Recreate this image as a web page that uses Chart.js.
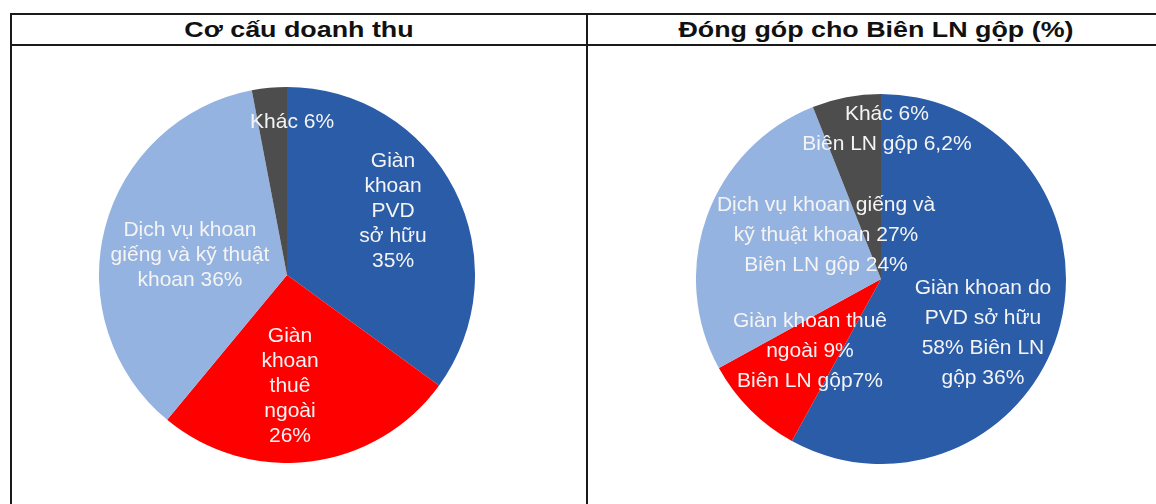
<!DOCTYPE html>
<html>
<head>
<meta charset="utf-8">
<script src="https://cdn.jsdelivr.net/npm/chart.js@4.4.0/dist/chart.umd.min.js"></script>
<style>
    body { margin: 0; width: 1156px; height: 504px; overflow: hidden; background: #fff; font-family: "Liberation Sans", Arial, sans-serif; }
    .line { position: absolute; background: #1a1a1a; }
    .title { position: absolute; top: 15px; height: 30px; line-height: 30px; text-align: center; font-weight: bold; font-size: 22px; color: #111; }
    .title span { display: inline-block; transform: scaleX(1.22); }
    canvas { position: absolute; }
</style>
</head>
<body>
<div class="line" style="left:10px;top:13px;width:1146px;height:2px"></div>
<div class="line" style="left:10px;top:44px;width:1146px;height:2px"></div>
<div class="line" style="left:10px;top:13px;width:2px;height:491px"></div>
<div class="line" style="left:586px;top:13px;width:2px;height:491px"></div>
<div class="title" style="left:12px;width:574px"><span>Cơ cấu doanh thu</span></div>
<div class="title" style="left:588px;width:576px"><span>Đóng góp cho Biên LN gộp (%)</span></div>

<canvas id="ChartRevenue" width="376" height="376" style="left:99px;top:87px"></canvas>
<canvas id="ChartMargin" width="370" height="370" style="left:696px;top:94px"></canvas>

<script>
// Cơ cấu doanh thu
var revenueCategories = ['Giàn khoan PVD sở hữu', 'Giàn khoan thuê ngoài', 'Dịch vụ khoan giếng và kỹ thuật khoan', 'Khác'];
var revenueShare = [35, 26, 36, 3];
var revenueText = [
    ['Giàn', 'khoan', 'PVD', 'sở hữu', '35%'],
    ['Giàn', 'khoan', 'thuê', 'ngoài', '26%'],
    ['Dịch vụ khoan', 'giếng và kỹ thuật', 'khoan 36%'],
    ['Khác 6%']
];

// Đóng góp cho Biên LN gộp
var marginCategories = ['Giàn khoan do PVD sở hữu', 'Giàn khoan thuê ngoài', 'Dịch vụ khoan giếng và kỹ thuật khoan', 'Khác'];
var marginShare = [58, 9, 27, 6];
var marginText = [
    ['Giàn khoan do', 'PVD sở hữu', '58% Biên LN', 'gộp 36%'],
    ['Giàn khoan thuê', 'ngoài 9%', 'Biên LN gộp7%'],
    ['Dịch vụ khoan giếng và', 'kỹ thuật khoan 27%', 'Biên LN gộp 24%'],
    ['Khác 6%', 'Biên LN gộp 6,2%']
];

var colors = ['#2B5CA8', '#FF0000', '#95B3E0', '#4D4D4D'];

// label anchors, as fractions of the pie radius from its centre
var revenueAnchor = [[0.564, -0.34], [0.016, 0.59], [-0.516, -0.106], [0.027, -0.814]];
var marginAnchor = [[0.551, 0.292], [-0.384, 0.389], [-0.297, -0.238], [0.032, -0.81]];

function sliceLabels(texts, anchors, lineHeight) {
    return {
        id: 'sliceLabels',
        afterDatasetsDraw: function (chart) {
            var ctx = chart.ctx;
            var arcs = chart.getDatasetMeta(0).data;
            ctx.save();
            ctx.fillStyle = '#F4F4F4';
            ctx.font = '21px "Liberation Sans", Arial, sans-serif';
            ctx.textAlign = 'center';
            ctx.textBaseline = 'middle';
            arcs.forEach(function (arc, i) {
                var r = arc.outerRadius;
                var cx = arc.x + anchors[i][0] * r;
                var cy = arc.y + anchors[i][1] * r;
                var lines = texts[i];
                var top = cy - (lines.length - 1) * lineHeight / 2;
                lines.forEach(function (t, k) {
                    ctx.fillText(t, cx, top + k * lineHeight);
                });
            });
            ctx.restore();
        }
    };
}

function makePie(id, labels, values, texts, anchors, lineHeight) {
    new Chart(document.getElementById(id), {
        type: 'pie',
        data: {
            labels: labels,
            datasets: [{
                data: values,
                backgroundColor: colors,
                borderWidth: 0
            }]
        },
        options: {
            responsive: false,
            animation: false,
            layout: { padding: 0 },
            plugins: {
                legend: { display: false },
                tooltip: { enabled: false }
            }
        },
        plugins: [sliceLabels(texts, anchors, lineHeight)]
    });
}

makePie('ChartRevenue', revenueCategories, revenueShare, revenueText, revenueAnchor, 25);
makePie('ChartMargin', marginCategories, marginShare, marginText, marginAnchor, 30);
</script>
</body>
</html>
